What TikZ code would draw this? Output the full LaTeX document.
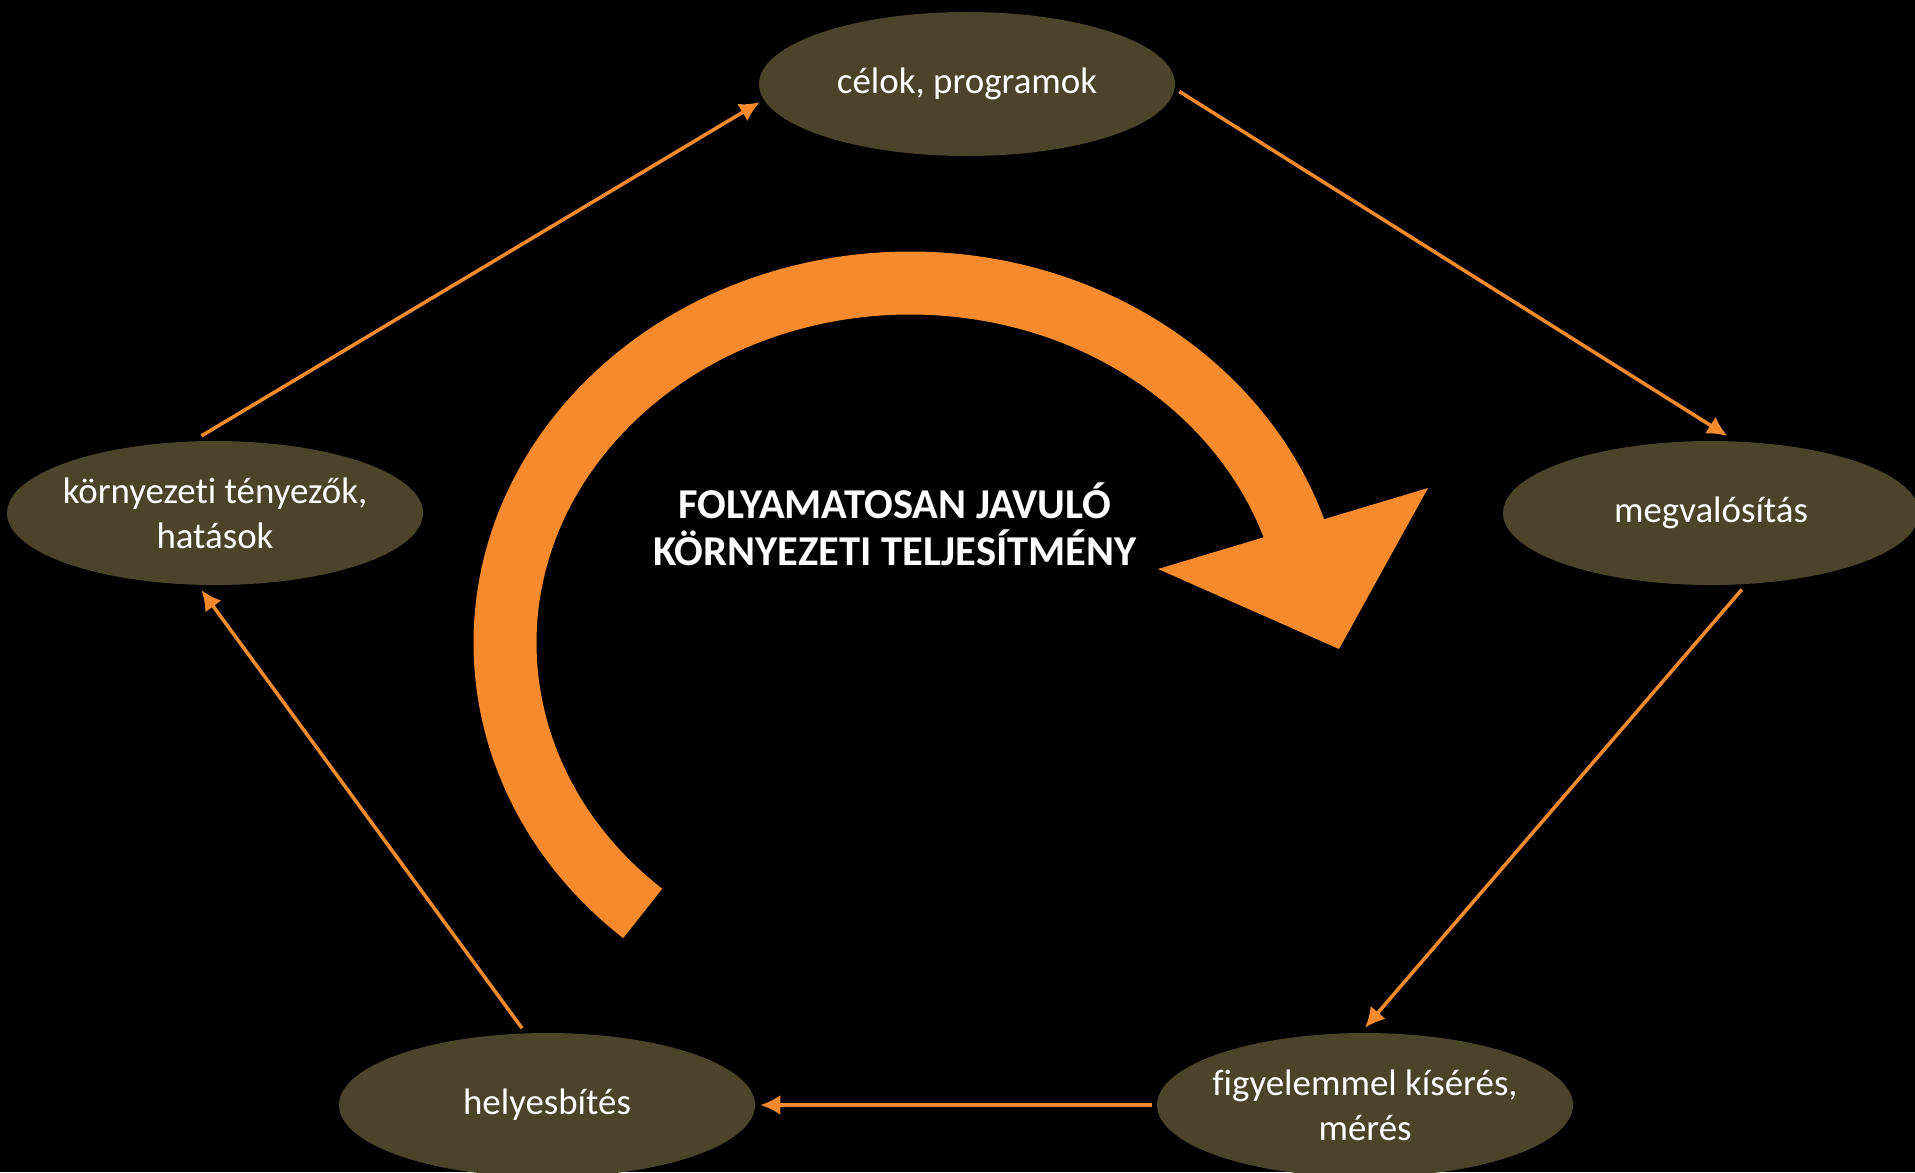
\documentclass[tikz,border=0pt]{standalone}
\usepackage{fontspec}
\setmainfont[Ligatures=NoCommon]{Carlito}
\usepackage{xcolor}
\usetikzlibrary{
    arrows.meta,
    shapes,
    positioning,
    calc
}
\definecolor{stageolive}{HTML}{4A452A}
\definecolor{loopor}{HTML}{F68A2C}
\tikzset{%
    >={Latex[width=2mm,length=2mm]},
    % Specifications for style of nodes:
    stage/.style = {
        ellipse, fill=stageolive, text=white,
        minimum width=4.16cm, minimum height=1.44cm,
        inner xsep=-0.6cm, inner ysep=0pt, outer sep=1.5pt, align=center,
        font=\fontsize{10.5}{12.8}\selectfont
    },
    flow/.style = {->, draw=loopor, line width=1pt},
    headline/.style = {text=white, align=center,
        font=\fontsize{12.1}{13.4}\selectfont\bfseries}
}

\begin{document}
\begin{tikzpicture}
    \fill[black] (0,0) rectangle (19.15,-11.72);
    \useasboundingbox (0,0) rectangle (19.15,-11.72);

    % big loop arrow
    \coordinate (hub) at (9.10,-6.43);
    \draw[loopor, line width=0.63cm] ([shift={(hub)}]228.7:4.05 and 3.6)
        arc[start angle=228.7, end angle=17, x radius=4.05, y radius=3.6];
    \fill[loopor] (11.58,-5.69) -- (14.28,-4.88) -- (13.39,-6.49) -- cycle;
    \node[headline] (title) at (8.95,-5.24) {FOLYAMATOSAN JAVULÓ\\KÖRNYEZETI TELJESÍTMÉNY};

    \node[stage] (celok) at (9.67,-0.84) {célok, programok};
    \node[stage] (megval) at (17.11,-5.13) {megvalósítás};
    \node[stage] (figy) at (13.65,-11.05) {figyelemmel kísérés,\\mérés};
    \node[stage] (hely) at (5.47,-11.05) {helyesbítés};
    \node[stage] (korny) at (2.15,-5.13) {környezeti tényezők,\\hatások};

    \draw[flow] (korny.100) -- (celok.185);
    \draw[flow] (celok.-2) -- (megval.78);
    \draw[flow] (megval.-68) -- (figy.north);
    \draw[flow] (figy.west) -- (hely.east);
    \draw[flow] (hely.108) -- (korny.260);
\end{tikzpicture}
\end{document}
